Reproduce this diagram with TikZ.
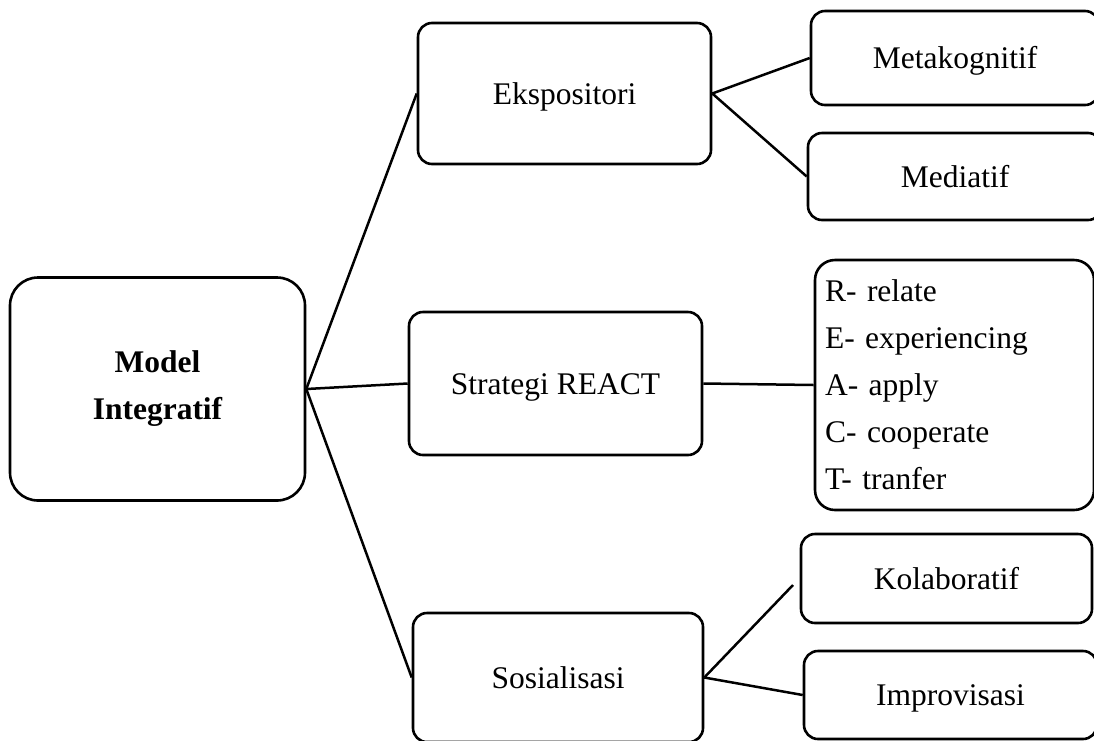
\documentclass[tikz,border=0pt]{standalone}
\usepackage{fontspec}
\setmainfont{Liberation Serif}
\begin{document}
\begin{tikzpicture}[x=1pt,y=-1pt,
  box/.style={draw=black,line width=2.6pt,rounded corners=14pt,inner sep=0pt,align=center,font=\fontsize{31.5}{47}\selectfont},
  one/.style={text height=21pt,text depth=0pt},
  conn/.style={draw=black,line width=2.5pt}]
\useasboundingbox (0,0) rectangle (1094,740);
\clip (0,0) rectangle (1094,740);
\node[box,rounded corners=28pt,minimum width=295pt,minimum height=223pt,font=\fontsize{31.5}{47}\selectfont\bfseries] (model) at (157.5,389) {Model\\Integratif};
\node[box,one,minimum width=293pt,minimum height=141pt] (ekspo) at (564.5,93.5) {Ekspositori};
\node[box,one,minimum width=293pt,minimum height=143pt] (strat) at (555.5,383.5) {Strategi REACT};
\node[box,one,minimum width=290pt,minimum height=129pt] (sosial) at (558,677.5) {Sosialisasi};
\node[box,one,minimum width=288pt,minimum height=94pt] (meta) at (955,58) {Metakognitif};
\node[box,one,minimum width=294pt,minimum height=87pt] (media) at (955,176.5) {Mediatif};
\node[box,rounded corners=20pt,minimum width=279pt,minimum height=250pt,text width=259pt,inner xsep=10pt,align=left] (react) at (954.5,385)
  {R- relate\\E- experiencing\\A- apply\\C- cooperate\\T- tranfer};
\node[box,one,minimum width=291pt,minimum height=89pt] (kolab) at (946.5,578.5) {Kolaboratif};
\node[box,one,minimum width=293pt,minimum height=88pt] (impro) at (950.5,695) {Improvisasi};
\coordinate (kend) at (793,585);
\draw[conn] (model.east) -- (ekspo.west);
\draw[conn] (model.east) -- (strat.west);
\draw[conn] (model.east) -- (sosial.west);
\draw[conn] (ekspo.east) -- (meta.west);
\draw[conn] (ekspo.east) -- (media.west);
\draw[conn] (strat.east) -- (react.west);
\draw[conn] (sosial.east) -- (kend);
\draw[conn] (sosial.east) -- (impro.west);
\end{tikzpicture}
\end{document}
